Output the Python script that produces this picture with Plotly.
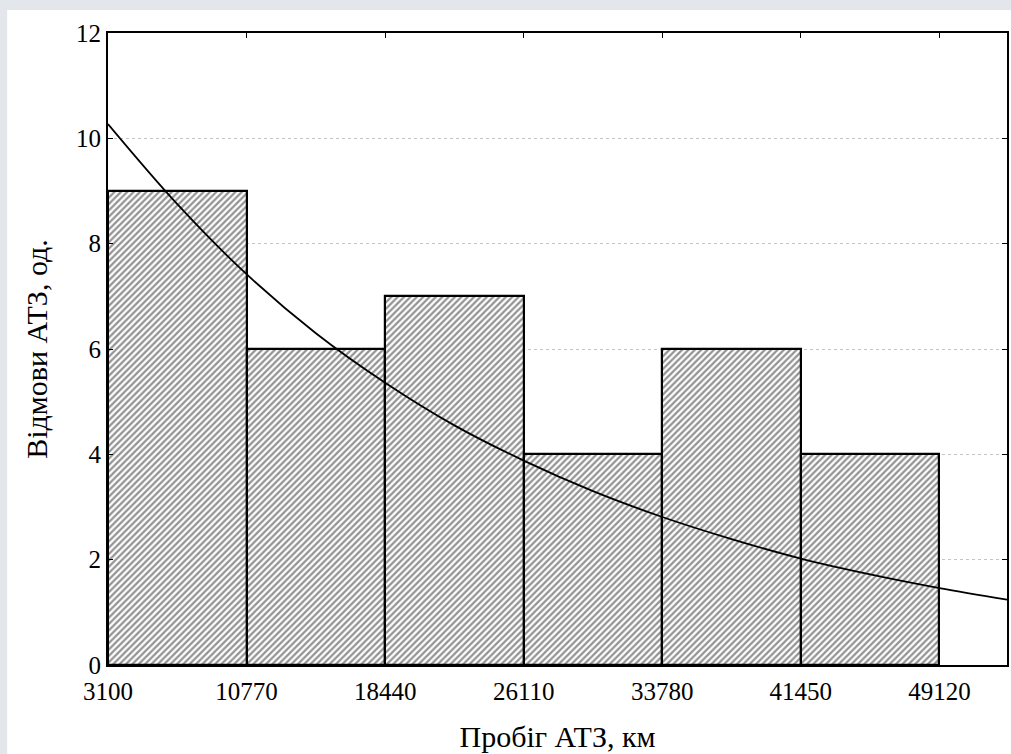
import plotly.graph_objects as go

# Data
bin_edges = [3100, 10770, 18440, 26110, 33780, 41450, 49120]
counts = [9, 6, 7, 4, 6, 4]
curve_x = [3100, 6935, 10770, 14605, 18440, 22275, 26110, 29945, 33780, 37615, 41450, 45285, 49120, 52860]
curve_y = [10.27, 8.75, 7.42, 6.30, 5.36, 4.55, 3.88, 3.30, 2.81, 2.39, 2.02, 1.72, 1.46, 1.24]
y_ticks = [0, 2, 4, 6, 8, 10, 12]
x_tick_labels = [str(v) for v in bin_edges]

centers = [(a + b) / 2 for a, b in zip(bin_edges[:-1], bin_edges[1:])]
widths = [b - a for a, b in zip(bin_edges[:-1], bin_edges[1:])]

fig = go.Figure()
fig.add_trace(go.Bar(
    x=centers, y=counts, width=widths,
    marker=dict(
        color="white",
        line=dict(color="black", width=2.2),
        pattern=dict(shape="/", size=4.5, solidity=0.5, fgcolor="#262626", bgcolor="white"),
    ),
    showlegend=False, hoverinfo="skip",
))
fig.add_trace(go.Scatter(
    x=curve_x, y=curve_y, mode="lines",
    line=dict(color="black", width=1.8, shape="spline"),
    showlegend=False, hoverinfo="skip",
))

font_family = "Liberation Serif, Times New Roman, DejaVu Serif, serif"
fig.update_layout(
    width=1011, height=754,
    margin=dict(l=108, r=2, t=33, b=89),
    paper_bgcolor="#e3e6ea",
    plot_bgcolor="white",
    font=dict(family=font_family, size=25, color="black"),
    bargap=0,
    shapes=[dict(type="rect", xref="paper", yref="paper",
                 x0=-0.1121, x1=1.01, y0=-0.15, y1=1.0364,
                 fillcolor="white", line=dict(width=0), layer="below")],
)
fig.update_xaxes(
    range=[3100, 52860],
    tickvals=bin_edges, ticktext=x_tick_labels,
    showgrid=False, zeroline=False,
    showline=True, linecolor="black", linewidth=1.8, mirror="ticks",
    ticks="inside", ticklen=5, tickcolor="black",
    ticklabelstandoff=3,
    tickfont=dict(family=font_family, size=25),
    title=dict(text="Пробіг АТЗ, км", font=dict(family=font_family, size=30), standoff=22),
)
fig.update_yaxes(
    range=[0, 12],
    tickvals=y_ticks,
    showgrid=True, gridcolor="#c4c4c4", griddash="dot", gridwidth=1,
    zeroline=False,
    showline=True, linecolor="black", linewidth=1.8, mirror="ticks",
    ticks="inside", ticklen=5, tickcolor="black",
    tickfont=dict(family=font_family, size=25),
    title=dict(text="Відмови АТЗ, од.", font=dict(family=font_family, size=30), standoff=20),
)

fig.write_html("out.html", config={"displayModeBar": False},
               post_script="document.body.style.margin='0';")
